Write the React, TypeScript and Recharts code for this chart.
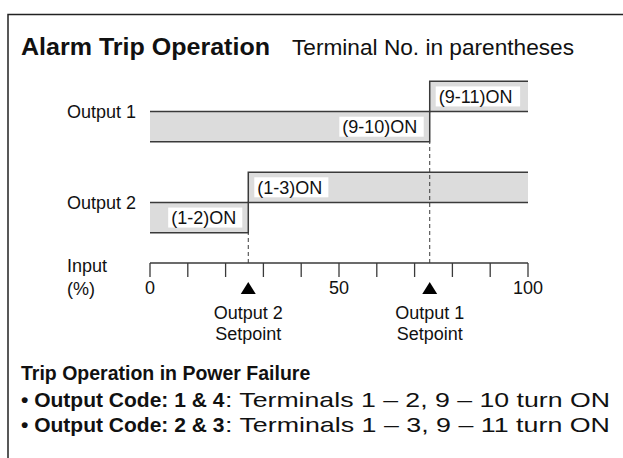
import React from 'react';
import { ComposedChart, Area, XAxis, YAxis, ReferenceLine, ReferenceDot } from 'recharts';

// ---- data ----
const inputPoints = [0, 26, 74, 100];
const output1Low = [3, 3, 4, 4];
const output1High = [4, 4, 5, 5];
const output2Low = [0, 1, 1, 1];
const output2High = [1, 2, 2, 2];

const axisTicks = [0, 10, 20, 30, 40, 50, 60, 70, 80, 90, 100];
const labeledTicks = [0, 50, 100];

const outputNames = ['Output 1', 'Output 2'];
const outputRowLevels = [4, 1];

const setpointValues = [74, 26];
const setpointNames = ['Output 1', 'Output 2'];
const setpointStepBottom = [3, 0];

const stateLabelTexts = ['(9-10)ON', '(9-11)ON', '(1-2)ON', '(1-3)ON'];
const stateLabelX = [74, 74, 26, 26];
const stateLabelLevel = [3.5, 4.5, 0.5, 1.5];
const stateLabelSide = ['left', 'right', 'left', 'right'];

const titleBold = 'Alarm Trip Operation';
const titleRegular = 'Terminal No. in parentheses';
const failureHeading = 'Trip Operation in Power Failure';
const failureCodes = ['Output Code: 1 & 4', 'Output Code: 2 & 3'];
const failureTexts = [': Terminals 1 \u2013 2, 9 \u2013 10 turn ON', ': Terminals 1 \u2013 3, 9 \u2013 11 turn ON'];

const chartData = inputPoints.map((x, i) => ({
  x,
  o1: [output1Low[i], output1High[i]],
  o2: [output2Low[i], output2High[i]],
}));

const FONT = "'Liberation Sans', Arial, Helvetica, sans-serif";
const LINE = '#3a3a3a';
const TEXT = '#111';

const XTick = (props: any) => {
  const { x, y, payload } = props;
  if (!labeledTicks.includes(payload.value)) return <g />;
  return (
    <text x={x} y={y} dy={15} textAnchor="middle" fontFamily={FONT} fontSize={18} fill={TEXT}>
      {payload.value}
    </text>
  );
};

const YTick = (props: any) => {
  const { x, y, payload } = props;
  const idx = outputRowLevels.indexOf(payload.value);
  return (
    <text x={x - 14} y={y} dy="0.36em" textAnchor="end" fontFamily={FONT} fontSize={18} fill={TEXT}>
      {outputNames[idx]}
    </text>
  );
};

const StateLabel = (text: string, side: string) => (props: any) => {
  const { cx, cy } = props;
  const w = text.length * 10.3 + 2;
  const h = 20;
  const bx = side === 'right' ? cx + 6 : cx - 6 - w;
  return (
    <g>
      <rect x={bx} y={cy - h / 2} width={w} height={h} fill="#fff" />
      <text x={bx + 3} y={cy} dy="0.36em" fontFamily={FONT} fontSize={18} fill={TEXT}>
        {text}
      </text>
    </g>
  );
};

const SetpointMarker = (name: string) => (props: any) => {
  const { cx, cy } = props;
  return (
    <g>
      <path d={`M${cx},${cy + 19} L${cx + 7.5},${cy + 31} L${cx - 7.5},${cy + 31} Z`} fill="#000" />
      <text x={cx} y={cy + 56} textAnchor="middle" fontFamily={FONT} fontSize={18} fill={TEXT}>
        {name}
      </text>
      <text x={cx} y={cy + 77} textAnchor="middle" fontFamily={FONT} fontSize={18} fill={TEXT}>
        Setpoint
      </text>
    </g>
  );
};

export default function App() {
  return (
    <div style={{ position: 'absolute', left: 0, top: 0, width: 623, height: 458, background: '#fff' }}>
      <ComposedChart
        width={623}
        height={458}
        data={chartData}
        margin={{ top: 51, right: 95, bottom: 165, left: 70 }}
      >
        <XAxis
          dataKey="x"
          type="number"
          domain={[0, 100]}
          ticks={axisTicks}
          interval={0}
          tickSize={14}
          height={30}
          axisLine={{ stroke: LINE, strokeWidth: 1.3 }}
          tickLine={{ stroke: LINE, strokeWidth: 1.3 }}
          tick={<XTick />}
        />
        <YAxis
          type="number"
          domain={[-1, 6]}
          ticks={outputRowLevels}
          width={80}
          axisLine={false}
          tickLine={false}
          tickSize={0}
          tickMargin={0}
          tick={<YTick />}
        />
        <Area
          dataKey="o1"
          type="stepAfter"
          stroke={LINE}
          strokeWidth={1.5}
          fill="#dcdcdc"
          fillOpacity={1}
          dot={false}
          activeDot={false}
          isAnimationActive={false}
        />
        <Area
          dataKey="o2"
          type="stepAfter"
          stroke={LINE}
          strokeWidth={1.5}
          fill="#dcdcdc"
          fillOpacity={1}
          dot={false}
          activeDot={false}
          isAnimationActive={false}
        />
        {setpointValues.map((sp, i) => (
          <ReferenceLine
            key={'dl' + i}
            segment={[{ x: sp, y: -1 }, { x: sp, y: setpointStepBottom[i] }]}
            stroke={LINE}
            strokeWidth={1}
            strokeDasharray="4 3"
          />
        ))}
        {stateLabelTexts.map((t, i) => (
          <ReferenceDot
            key={'sl' + i}
            x={stateLabelX[i]}
            y={stateLabelLevel[i]}
            r={0}
            shape={StateLabel(t, stateLabelSide[i])}
          />
        ))}
        {setpointValues.map((sp, i) => (
          <ReferenceDot key={'sp' + i} x={sp} y={-1} r={0} shape={SetpointMarker(setpointNames[i])} />
        ))}
      </ComposedChart>
      <svg width={623} height={458} style={{ position: 'absolute', left: 0, top: 0, pointerEvents: 'none' }}>
        <rect x={8} y={14.5} width={700} height={500} fill="none" stroke="#222" strokeWidth={1.5} />
        <text x={21} y={55} fontFamily={FONT} fontWeight="bold" fontSize={23.5} fill={TEXT}
          textLength={249} lengthAdjust="spacingAndGlyphs">
          {titleBold}
        </text>
        <text x={292} y={55} fontFamily={FONT} fontSize={21.5} fill={TEXT}
          textLength={282} lengthAdjust="spacingAndGlyphs">
          {titleRegular}
        </text>
        <text x={67} y={272} fontFamily={FONT} fontSize={18} fill={TEXT}>Input</text>
        <text x={67} y={295} fontFamily={FONT} fontSize={18} fill={TEXT}>(%)</text>
        <text x={21} y={380} fontFamily={FONT} fontSize={19.5} fontWeight="bold" fill={TEXT}>{failureHeading}</text>
        {failureCodes.map((c, i) => (
          <g key={c}>
            <text x={21} y={407 + i * 25} fontFamily={FONT} fontSize={21} fontWeight="bold" fill={TEXT}>
              {'\u2022 ' + c}
            </text>
            <text x={225} y={407 + i * 25} fontFamily={FONT} fontSize={21} fill={TEXT}
              textLength={385} lengthAdjust="spacingAndGlyphs">
              {failureTexts[i]}
            </text>
          </g>
        ))}
      </svg>
    </div>
  );
}
